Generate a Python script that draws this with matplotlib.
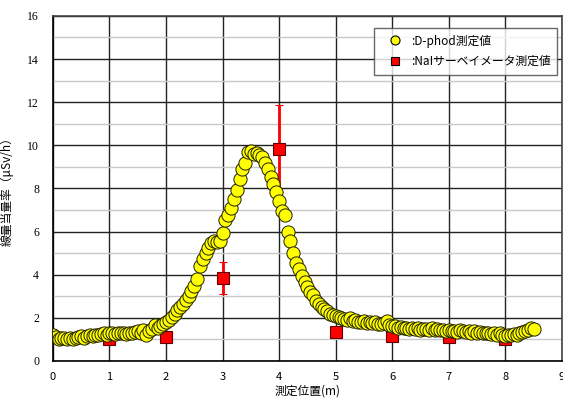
import numpy as np
import matplotlib.pyplot as plt
from matplotlib.lines import Line2D

plt.rcParams['font.family'] = ['Noto Sans CJK JP', 'DejaVu Sans']

# D-phod measurements (position m, dose rate uSv/h)
dphod_x = np.round(np.arange(0, 8.501, 0.05), 2)
dphod_y = [
    1.20, 1.10, 1.02, 1.05, 1.08, 1.03, 1.08, 1.00, 1.05, 1.10,
    1.15, 1.05, 1.15, 1.20, 1.18, 1.22, 1.20, 1.25, 1.30, 1.22,
    1.30, 1.28, 1.25, 1.30, 1.28, 1.32, 1.25, 1.28, 1.30, 1.35,
    1.38, 1.30, 1.42, 1.20, 1.40, 1.50, 1.65, 1.55, 1.62, 1.70,
    1.82, 1.90, 2.05, 2.20, 2.35, 2.50, 2.65, 2.85, 3.00, 3.25,
    3.50, 3.80, 4.40, 4.75, 5.00, 5.25, 5.45, 5.55, 5.50, 5.55,
    5.95, 6.55, 6.75, 7.10, 7.50, 7.95, 8.45, 8.90, 9.20, 9.70,
    9.75, 9.60, 9.65, 9.55, 9.45, 9.20, 8.90, 8.55, 8.20, 7.85,
    7.40, 6.95, 6.75, 6.00, 5.55, 5.00, 4.55, 4.25, 3.95, 3.65,
    3.45, 3.20, 3.05, 2.80, 2.65, 2.50, 2.40, 2.30, 2.20, 2.15,
    2.10, 2.05, 2.00, 1.95, 1.92, 1.98, 1.85, 1.90, 1.82, 1.80,
    1.85, 1.78, 1.80, 1.75, 1.82, 1.72, 1.70, 1.78, 1.85, 1.68,
    1.60, 1.62, 1.55, 1.58, 1.52, 1.55, 1.50, 1.55, 1.48, 1.52,
    1.45, 1.50, 1.48, 1.45, 1.55, 1.45, 1.50, 1.42, 1.45, 1.40,
    1.42, 1.38, 1.40, 1.35, 1.42, 1.38, 1.35, 1.40, 1.32, 1.38,
    1.30, 1.35, 1.28, 1.32, 1.30, 1.25, 1.28, 1.22, 1.30, 1.20,
    1.18, 1.22, 1.20, 1.25, 1.22, 1.30, 1.35, 1.40, 1.45, 1.55,
    1.50,
]

# NaI survey meter
nai_x = [1, 2, 3, 4, 5, 6, 7, 8]
nai_y = [1.0, 1.1, 3.85, 9.85, 1.35, 1.15, 1.1, 1.0]
nai_err = [0.1, 0.1, 0.75, 2.0, 0.15, 0.1, 0.1, 0.1]

labels = [':D-phod測定値', ':NaIサーベイメータ測定値']

fig = plt.figure(figsize=(5.63, 3.98), dpi=100)
ax = fig.add_axes([0.094, 0.093, 0.904, 0.867])

ax.errorbar(nai_x, nai_y, yerr=nai_err, fmt='s', color='#ff0000',
            mfc='#ff0000', mec='#600000', mew=0.8, ms=9, elinewidth=2,
            capsize=3, capthick=1.5, zorder=3)
ax.plot(dphod_x, dphod_y, 'o', mfc='#ffff00', mec='#202000', mew=0.7,
        ms=9.5, zorder=4)

ax.set_xlim(0, 9)
ax.set_ylim(0, 16)
ax.set_xticks(range(0, 10))
ax.set_yticks(range(0, 17, 2))
ax.set_yticks(range(1, 16, 2), minor=True)
ax.grid(which='major', color='#222222', lw=1.0, zorder=1)
ax.grid(which='minor', axis='y', color='#c8c8c8', lw=1.0, zorder=1)
ax.tick_params(which='both', length=0)
ax.tick_params(axis='x', labelsize=8, pad=8)
ax.tick_params(axis='y', labelsize=8.5, pad=10)
for t in ax.get_yticklabels():
    t.set_family('Liberation Serif')
for s in ax.spines.values():
    s.set_color('#444444')
    s.set_linewidth(1.2)
ax.spines['left'].set_color('black')
ax.spines['bottom'].set_color('black')

ax.set_xlabel('測定位置(m)', fontsize=8.5, labelpad=2)
ax.set_ylabel('線量当量率（μSv/h）', fontsize=8.5, labelpad=10)

handles = [
    Line2D([], [], ls='none', marker='o', mfc='#ffff00', mec='black',
           mew=0.8, ms=6.5),
    Line2D([], [], ls='none', marker='s', mfc='#ff0000', mec='black',
           mew=0.8, ms=6),
]
leg = ax.legend(handles, labels, loc='upper left',
                bbox_to_anchor=(0.630, 0.965), fontsize=8.5,
                frameon=True, fancybox=False, edgecolor='#444444',
                handletextpad=0.0, borderpad=0.55, borderaxespad=0,
                labelspacing=0.65, handlelength=2.6)
leg.get_frame().set_linewidth(1.0)

fig.savefig('out.png', dpi=100)
